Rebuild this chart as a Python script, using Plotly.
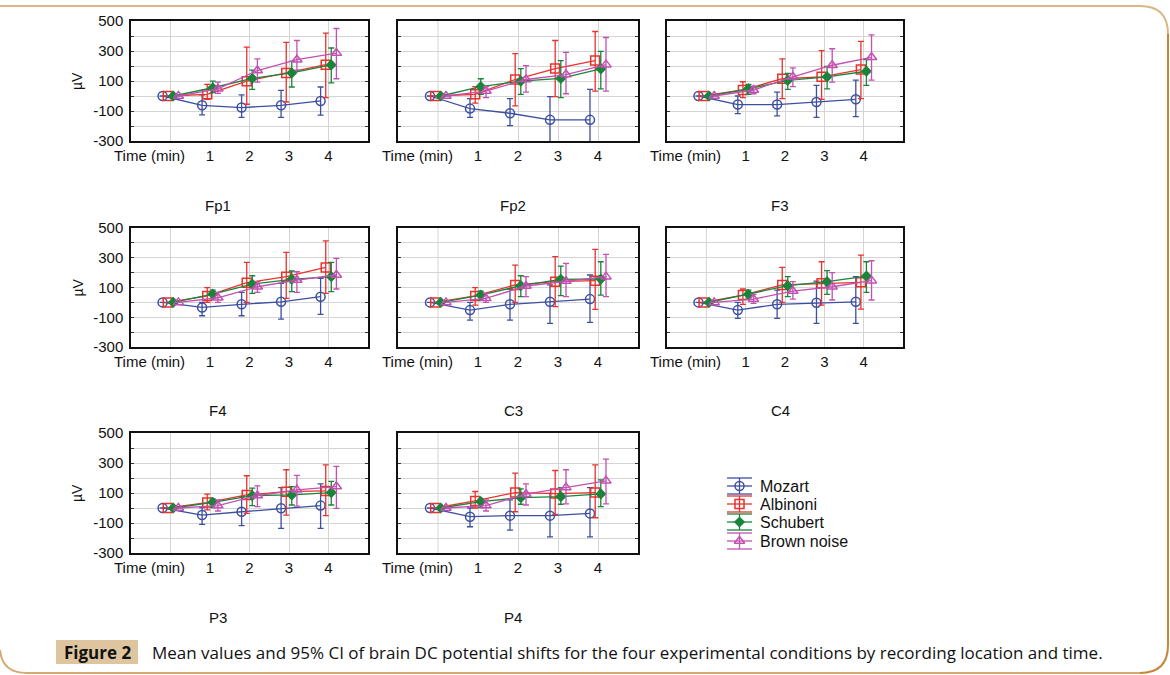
import plotly.graph_objects as go

W, H = 1170, 675

times = [0, 1, 2, 3, 4]
conditions = ["Mozart", "Albinoni", "Schubert", "Brown noise"]
locations = ["Fp1", "Fp2", "F3", "F4", "C3", "C4", "P3", "P4"]
x_tick_labels = ["1", "2", "3", "4"]
y_tick_vals = [-300, -200, -100, 0, 100, 200, 300, 400, 500]
y_tick_labels = ["-300", "", "-100", "", "100", "", "300", "", "500"]

# mean / lower / upper per location, rows = Mozart, Albinoni, Schubert, Brown noise
FP1_MEAN = [[0, -62, -77, -62, -33], [0, 11, 99, 154, 209], [0, 55, 117, 154, 207], [0, 48, 170, 242, 286]]
FP1_LOW = [[0, -126, -143, -143, -128], [0, -22, -55, -40, -11], [0, 22, 44, 60, 88], [0, 18, 93, 172, 115]]
FP1_HIGH = [[0, 7, 7, 37, 60], [0, 77, 326, 357, 419], [0, 99, 172, 231, 320], [0, 93, 247, 370, 450]]

FP2_MEAN = [[0, -84, -115, -159, -159], [0, 11, 110, 183, 236], [0, 62, 99, 117, 181], [0, 33, 110, 143, 209]]
FP2_LOW = [[0, -143, -198, -380, -380], [0, -48, -66, -4, 33], [0, 11, 11, -11, 48], [0, -11, 26, 15, 33]]
FP2_HIGH = [[0, -18, -18, -4, 44], [0, 62, 282, 370, 430], [0, 115, 183, 236, 298], [0, 62, 203, 291, 390]]

F3_MEAN = [[0, -57, -57, -40, -22], [0, 40, 115, 128, 176], [0, 48, 104, 128, 165], [0, 40, 128, 205, 258]]
F3_LOW = [[0, -117, -132, -143, -137], [0, -11, -18, -22, -18], [0, 11, 44, 48, 71], [0, 15, 62, 93, 106]]
F3_HIGH = [[0, 0, 26, 71, 106], [0, 95, 247, 302, 364], [0, 77, 150, 198, 242], [0, 66, 187, 315, 408]]

F4_MEAN = [[0, -34, -13, 4, 38], [0, 43, 132, 173, 235], [0, 56, 123, 155, 173], [0, 31, 105, 150, 184]]
F4_LOW = [[0, -90, -90, -112, -81], [0, 0, 0, 27, 60], [0, 27, 60, 72, 72], [0, 0, 67, 67, 90]]
F4_HIGH = [[0, 0, 67, 128, 161], [0, 99, 269, 336, 413], [0, 83, 179, 211, 269], [0, 67, 139, 206, 296]]

C3_MEAN = [[0, -52, -13, 4, 22], [0, 43, 117, 139, 146], [0, 49, 112, 155, 157], [0, 27, 110, 143, 173]]
C3_LOW = [[0, -119, -119, -141, -135], [0, -18, 0, -29, -47], [0, 16, 38, 45, 49], [0, 0, 38, 38, 38]]
C3_HIGH = [[0, 0, 90, 117, 184], [0, 99, 251, 307, 356], [0, 76, 179, 244, 273], [0, 61, 173, 262, 323]]

C4_MEAN = [[0, -52, -13, -2, 4], [0, 49, 117, 128, 135], [0, 54, 112, 139, 177], [0, 22, 76, 105, 146]]
C4_LOW = [[0, -108, -108, -141, -141], [0, -13, 0, -18, -45], [0, 22, 38, 54, 67], [0, -7, 22, 16, 16]]
C4_HIGH = [[0, 0, 83, 143, 173], [0, 90, 235, 273, 318], [0, 83, 173, 213, 273], [0, 54, 139, 200, 280]]

P3_MEAN = [[0, -47, -25, -2, 16], [0, 36, 87, 109, 114], [0, 38, 83, 87, 103], [0, 16, 83, 121, 143]]
P3_LOW = [[0, -109, -118, -136, -136], [0, -13, -36, -47, -51], [0, 2, 16, 20, 20], [0, -20, 9, 13, -2]]
P3_HIGH = [[0, 2, 76, 136, 161], [0, 92, 215, 255, 288], [0, 60, 132, 143, 177], [0, 54, 147, 217, 277]]

P4_MEAN = [[0, -58, -51, -51, -36], [0, 47, 103, 96, 103], [0, 42, 69, 76, 94], [0, 16, 92, 136, 181]]
P4_LOW = [[0, -125, -147, -192, -192], [0, 0, -25, -42, -65], [0, 2, 25, 25, 9], [0, -20, 20, 27, 27]]
P4_HIGH = [[0, 0, 54, 98, 136], [0, 110, 232, 250, 288], [0, 60, 127, 136, 188], [0, 54, 161, 255, 326]]

panel_data = {
    "Fp1": (FP1_MEAN, FP1_LOW, FP1_HIGH),
    "Fp2": (FP2_MEAN, FP2_LOW, FP2_HIGH),
    "F3": (F3_MEAN, F3_LOW, F3_HIGH),
    "F4": (F4_MEAN, F4_LOW, F4_HIGH),
    "C3": (C3_MEAN, C3_LOW, C3_HIGH),
    "C4": (C4_MEAN, C4_LOW, C4_HIGH),
    "P3": (P3_MEAN, P3_LOW, P3_HIGH),
    "P4": (P4_MEAN, P4_LOW, P4_HIGH),
}

# styling
colors = ["#3d4fa1", "#e8322c", "#18853b", "#c251b1"]
symbols = ["circle-open", "square-open", "diamond", "triangle-up-open"]
msizes = [9, 9, 7, 9]
offsets = [-0.2, -0.07, 0.07, 0.2]

col_px = [(131, 368), (398, 638), (667, 903)]
row_px = [(21, 141), (228, 347), (433, 553)]
title_x = [218, 513, 780]
title_y = [205, 410, 617]

FONT = "Liberation Sans, Arial, sans-serif"
GRID = "#d4d4d4"
TICK_SIZE = 15


def px(x):
    return x / W


def py(y):
    return 1 - y / H


fig = go.Figure()
annotations = []
layout_axes = {}

for i, loc in enumerate(locations):
    r, c = divmod(i, 3)
    n = i + 1
    xa = "x" if n == 1 else f"x{n}"
    ya = "y" if n == 1 else f"y{n}"
    xkey = "xaxis" if n == 1 else f"xaxis{n}"
    ykey = "yaxis" if n == 1 else f"yaxis{n}"
    x0, x1 = col_px[c]
    y0, y1 = row_px[r]
    layout_axes[xkey] = dict(
        domain=[px(x0), px(x1)], anchor=ya, range=[-1, 5], automargin=False,
        tickvals=times[1:], ticktext=x_tick_labels,
        showgrid=True, gridcolor=GRID, gridwidth=1,
        showline=True, linecolor="#111", linewidth=1.5, mirror=True,
        ticks="", zeroline=False, ticklabelstandoff=0,
        tickfont=dict(family=FONT, size=TICK_SIZE, color="#111"),
    )
    layout_axes[ykey] = dict(
        domain=[py(y1), py(y0)], anchor=xa, range=[-300, 500], automargin=False,
        tickvals=y_tick_vals,
        ticktext=y_tick_labels if c == 0 else [""] * len(y_tick_vals),
        showgrid=True, gridcolor=GRID, gridwidth=1,
        showline=True, linecolor="#111", linewidth=1.5, mirror="ticks",
        ticks="inside", ticklen=3, tickcolor="#333", zeroline=False,
        ticklabelstandoff=3,
        tickfont=dict(family=FONT, size=TICK_SIZE, color="#111"),
    )
    fig.add_shape(type="line", xref=xa, yref=f"{ya} domain", x0=0, x1=0, y0=0, y1=1,
                  line=dict(color=GRID, width=1), layer="below")
    annotations.append(dict(text="Time (min)", xref=f"{xa} domain", yref=f"{ya} domain",
                            x=0.08, y=-14 / (y1 - y0), xanchor="center", yanchor="middle",
                            showarrow=False, font=dict(family=FONT, size=TICK_SIZE, color="#111")))
    if c == 0:
        annotations.append(dict(text="µV", xref="paper", yref="paper", x=px(77),
                                y=py((y0 + y1) / 2), textangle=-90,
                                xanchor="center", yanchor="middle", showarrow=False,
                                font=dict(family=FONT, size=14, color="#111")))
    annotations.append(dict(text=loc, xref="paper", yref="paper", x=px(title_x[c]),
                            y=py(title_y[r]), xanchor="center", yanchor="middle",
                            showarrow=False, font=dict(family=FONT, size=15, color="#111")))

    means, lows, highs = panel_data[loc]
    for k, cond in enumerate(conditions):
        m, lo, hi = means[k], lows[k], highs[k]
        xs = [t + offsets[k] for t in times]
        up = [h - v if h != v else float("nan") for v, h in zip(m, hi)]
        dn = [v - l if l != v else float("nan") for v, l in zip(m, lo)]
        fig.add_trace(go.Scatter(
            x=xs, y=m, xaxis=xa, yaxis=ya, mode="lines+markers", name=cond,
            showlegend=False,
            line=dict(color=colors[k], width=1.3),
            marker=dict(symbol=symbols[k], size=msizes[k], color=colors[k],
                        line=dict(color=colors[k], width=1.5)),
            error_y=dict(type="data", symmetric=False, array=up, arrayminus=dn,
                         color=colors[k], thickness=1.3, width=3),
        ))

# custom legend (Statistica style keys) in a pixel-based overlay axis
LEG_X0, LEG_X1, LEG_Y0, LEG_Y1 = 715, 880, 470, 556
leg_rows = [486, 504, 522, 541]
layout_axes["xaxis9"] = dict(domain=[px(LEG_X0), px(LEG_X1)], range=[LEG_X0, LEG_X1],
                             visible=False, anchor="y9", automargin=False, fixedrange=True)
layout_axes["yaxis9"] = dict(domain=[py(LEG_Y1), py(LEG_Y0)], range=[LEG_Y1, LEG_Y0],
                             visible=False, anchor="x9", automargin=False, fixedrange=True)
for k, cond in enumerate(conditions):
    yc = leg_rows[k]
    kx0, kx1, kc = 727, 752, 739.5
    fig.add_trace(go.Scatter(
        x=[kx0, kx1, None, kx0, kx1, None, kx0, kx1, None, kc, kc],
        y=[yc - 8, yc - 8, None, yc, yc, None, yc + 8, yc + 8, None, yc - 8, yc + 8],
        xaxis="x9", yaxis="y9", mode="lines", showlegend=False, hoverinfo="skip",
        line=dict(color=colors[k], width=1.3),
    ))
    fig.add_trace(go.Scatter(
        x=[kc], y=[yc], xaxis="x9", yaxis="y9", mode="markers", showlegend=False,
        hoverinfo="skip",
        marker=dict(symbol=symbols[k], size=msizes[k], color=colors[k],
                    line=dict(color=colors[k], width=1.5)),
    ))
    annotations.append(dict(text=cond, xref="paper", yref="paper", x=px(758), y=py(yc),
                            xanchor="left", yanchor="middle", showarrow=False,
                            font=dict(family=FONT, size=16, color="#111")))

# caption
CAP_FONT = "Open Sans, Roboto, sans-serif"
annotations.append(dict(text="<b>Figure 2</b>", xref="paper", yref="paper", x=px(97),
                        y=py(652), xanchor="center", yanchor="middle", showarrow=False,
                        font=dict(family=CAP_FONT, size=17, color="#111")))
annotations.append(dict(text="Mean values and 95% CI of brain DC potential shifts for the four experimental conditions by recording location and time.",
                        xref="paper", yref="paper", x=px(150), y=py(652),
                        xanchor="left", yanchor="middle", showarrow=False,
                        font=dict(family=CAP_FONT, size=17, color="#111")))

shapes = [
    dict(type="rect", xref="paper", yref="paper", x0=px(56), x1=px(138),
         y0=py(664), y1=py(640), fillcolor="#dfc59f", line=dict(width=0), layer="below"),
    dict(type="path", xref="paper", yref="paper",
         path=f"M {px(-5)},{py(6)} L {px(1140)},{py(6)} Q {px(1168)},{py(6)} {px(1168)},{py(34)}",
         line=dict(color="#dbb685", width=2)),
    dict(type="path", xref="paper", yref="paper",
         path=f"M {px(1168)},{py(34)} L {px(1168)},{py(645)} Q {px(1168)},{py(673)} {px(1140)},{py(673)}",
         line=dict(color="#c4873a", width=2)),
    dict(type="path", xref="paper", yref="paper",
         path=f"M {px(1140)},{py(673)} L {px(27)},{py(673)} Q {px(2)},{py(673)} {px(0)},{py(650)}",
         line=dict(color="#d4aa70", width=2)),
]

fig.update_layout(
    width=W, height=H, margin=dict(l=0, r=0, t=0, b=0, autoexpand=False),
    paper_bgcolor="white", plot_bgcolor="rgba(0,0,0,0)",
    showlegend=False,
    annotations=annotations,
    **layout_axes,
)
for s in shapes:
    fig.add_shape(**s)

fig.write_html("out.html", config={"displayModeBar": False},
               post_script="document.body.style.margin='0';")
